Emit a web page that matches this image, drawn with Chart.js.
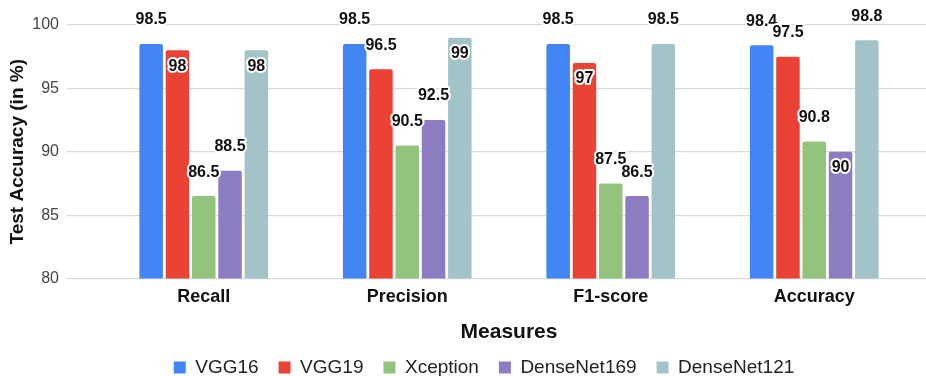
<!DOCTYPE html>
<html>
<head>
<meta charset="utf-8">
<title>Test Accuracy by Measure</title>
<script src="https://cdn.jsdelivr.net/npm/chart.js@4.4.1/dist/chart.umd.min.js"></script>
<style>
  html, body { margin: 0; padding: 0; background: #ffffff; }
  #wrap { width: 926px; height: 376px; }
</style>
</head>
<body>
<div id="wrap"><canvas id="chart"></canvas></div>
<script>
// Dados do gráfico
const measures = ['Recall', 'Precision', 'F1-score', 'Accuracy'];
const models = ['VGG16', 'VGG19', 'Xception', 'DenseNet169', 'DenseNet121'];

const vgg16 = [98.5, 98.5, 98.5, 98.4];
const vgg19 = [98, 96.5, 97, 97.5];
const xception = [86.5, 90.5, 87.5, 90.8];
const densenet169 = [88.5, 92.5, 86.5, 90];
const densenet121 = [98, 99, 98.5, 98.8];

const yTicks = [80, 85, 90, 95, 100];

// Cores e posição dos rótulos (dentro da barra ou acima)
const colors = ['#4285F4', '#EA4335', '#93C47D', '#8E7CC3', '#A2C4C9'];
const labelInside = [
  [false, false, false, false],
  [true, false, true, false],
  [false, false, false, false],
  [false, false, false, true],
  [true, true, false, false]
];

const FONT = "'Liberation Sans', Arial, sans-serif";

// Rótulos de valor com contorno branco
const valueLabels = {
  id: 'valueLabels',
  afterDatasetsDraw(chart) {
    const ctx = chart.ctx;
    ctx.save();
    ctx.font = 'bold 16px ' + FONT;
    ctx.textAlign = 'center';
    ctx.textBaseline = 'middle';
    ctx.lineJoin = 'round';
    chart.data.datasets.forEach((ds, i) => {
      const meta = chart.getDatasetMeta(i);
      meta.data.forEach((bar, j) => {
        const text = String(ds.data[j]);
        const y = labelInside[i][j] ? bar.y + 16 : bar.y - 24;
        ctx.lineWidth = 4;
        ctx.strokeStyle = '#ffffff';
        ctx.strokeText(text, bar.x, y);
        ctx.fillStyle = '#111111';
        ctx.fillText(text, bar.x, y);
      });
    });
    ctx.restore();
  }
};

// Desloca a legenda um pouco para a direita, como no original
const legendShift = {
  id: 'legendShift',
  afterLayout(chart) {
    chart.legend.left += 21;
    chart.legend.right += 21;
  }
};

const seriesValues = [vgg16, vgg19, xception, densenet169, densenet121];

const chart = new Chart(document.getElementById('chart'), {
  type: 'bar',
  data: {
    labels: measures,
    datasets: models.map((name, i) => ({
      label: name,
      data: seriesValues[i],
      backgroundColor: colors[i],
      borderRadius: { topLeft: 2, topRight: 2 },
      borderSkipped: 'bottom',
      categoryPercentage: 0.646,
      barPercentage: 0.894
    }))
  },
  options: {
    responsive: true,
    maintainAspectRatio: false,
    animation: false,
    layout: { padding: { top: 25, left: 0, right: 0, bottom: -11 } },
    plugins: {
      legend: {
        position: 'bottom',
        labels: {
          boxWidth: 12,
          boxHeight: 12,
          padding: 20,
          color: '#222222',
          font: { family: FONT, size: 19 }
        }
      },
      tooltip: { enabled: false }
    },
    scales: {
      x: {
        grid: { display: false, drawTicks: false },
        border: { display: false },
        ticks: {
          padding: 8,
          color: '#111111',
          font: { family: FONT, size: 18, weight: 'bold' }
        },
        title: {
          display: true,
          text: 'Measures',
          color: '#111111',
          padding: { top: 3.3, bottom: -6.6 },
          font: { family: FONT, size: 21, weight: 'bold' }
        }
      },
      y: {
        min: 80,
        max: 100,
        afterBuildTicks(scale) {
          scale.ticks = yTicks.map(v => ({ value: v }));
        },
        afterFit(scale) { scale.width = 102; },
        grid: { color: '#d9d9d9', lineWidth: 1.2, tickLength: 35 },
        border: { display: false },
        ticks: {
          padding: 8,
          color: '#444444',
          font: { family: FONT, size: 16 }
        },
        title: {
          display: true,
          text: 'Test Accuracy (in %)',
          color: '#111111',
          padding: { top: 6, bottom: 2 },
          font: { family: FONT, size: 19, weight: 'bold' }
        }
      },
      yRight: {
        position: 'right',
        min: 80,
        max: 100,
        afterBuildTicks(scale) {
          scale.ticks = yTicks.map(v => ({ value: v }));
        },
        afterFit(scale) { scale.width = 10; },
        grid: { color: '#d9d9d9', lineWidth: 1.2, drawOnChartArea: false, tickLength: 10 },
        border: { display: false },
        ticks: { display: false }
      }
    }
  },
  plugins: [valueLabels, legendShift]
});
</script>
</body>
</html>
